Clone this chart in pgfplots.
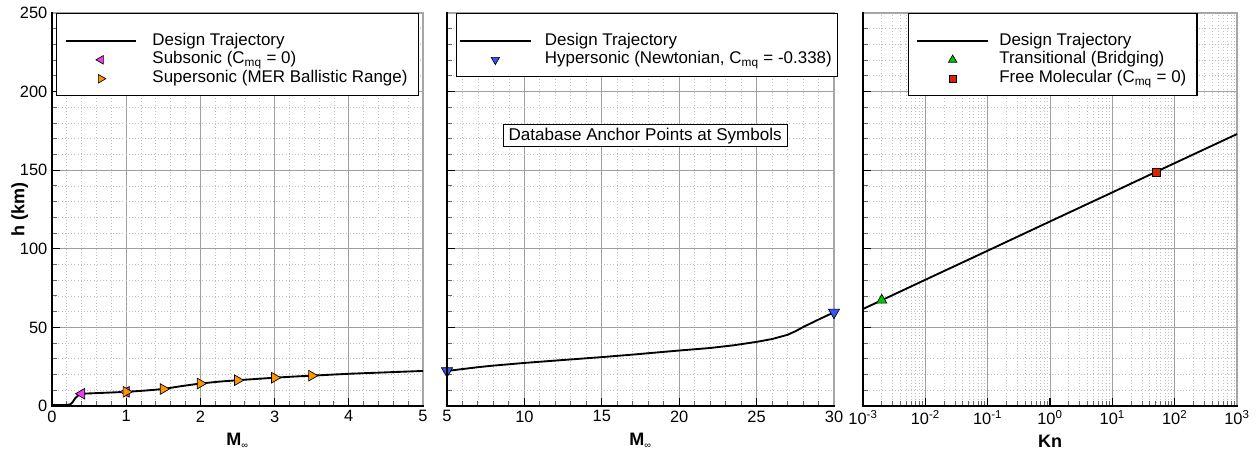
\documentclass[border=0pt]{standalone}
\usepackage{fontspec}
\setmainfont{Liberation Sans}
\usepackage{pgfplots}
\pgfplotsset{compat=1.18}

\definecolor{submag}{RGB}{240,60,240}
\definecolor{suporange}{RGB}{255,148,0}
\definecolor{hypblue}{RGB}{55,85,255}
\definecolor{trgreen}{RGB}{0,200,0}
\definecolor{fmred}{RGB}{220,35,0}

\pgfplotsset{
  panel/.style={
    scale only axis, height=294.75pt, anchor=south west,
    ymin=0, ymax=250, ytick={0,50,...,250}, minor y tick num=4,
    clip=false,
    axis line style={draw=gray!70, line width=1pt},
    tick align=inside, xtick pos=bottom, ytick pos=left,
    major tick length=6pt, minor tick length=4pt,
    major tick style={black, line width=1pt},
    minor tick style={gray!80!black, line width=0.7pt},
    grid=both,
    major grid style={gray!75, line width=0.7pt},
    minor grid style={gray!50, dotted, line width=0.6pt},
    /pgf/number format/assume math mode=true,
    tick label style={font=\fontsize{12.3}{14}\selectfont, black},
    label style={font=\bfseries\fontsize{13.5}{15}\selectfont},
    xlabel style={yshift=-1pt},
    ylabel style={yshift=-13pt},
    legend cell align=left,
    legend style={anchor=north west, draw=black, line width=0.8pt, fill=white,
      font=\fontsize{12.7}{14}\selectfont, inner xsep=6pt, inner ysep=5.5pt,
      row sep=0pt, column sep=8pt,
      nodes={text height=9pt, text depth=2.8pt, inner ysep=1.2pt}},
    legend image code/.code={\draw[mark repeat=2,mark phase=2,##1]
      plot coordinates {(0pt,0pt) (26.5pt,0pt) (53pt,0pt)};},
    after end axis/.code={\draw[black, line width=1.6pt, line cap=rect]
      (rel axis cs:0,1) -- (rel axis cs:0,0) -- (rel axis cs:1,0);},
  },
  traj/.style={black, line width=1.4pt, no marks},
}

\begin{document}
\begin{tikzpicture}
\path[use as bounding box] (0,0) rectangle (942.75pt,341.25pt);

% ---------------- subsonic / supersonic range ----------------
\begin{axis}[panel, at={(39pt,36.75pt)}, width=278.25pt,
  xmin=0, xmax=5, xtick={0,1,...,5}, minor x tick num=4,
  xlabel={M\textsubscript{\normalfont\scriptsize ∞}}, ylabel={h (km)},
  legend style={at={(rel axis cs:0.011,1)}, column sep=9.5pt}]
\addlegendimage{empty legend}\addlegendentry[text height=5.5pt, text depth=0pt]{}
\addplot[traj] coordinates {
 (0,0.6) (0.1,0.6) (0.2,0.7) (0.25,1.1) (0.28,2.6) (0.31,4.8) (0.35,6.6)
 (0.4,7.8) (0.6,8.2) (0.8,8.6) (1.0,9.0) (1.25,9.8) (1.5,10.8) (1.75,12.7)
 (2.0,14.3) (2.25,15.5) (2.5,16.4) (2.75,17.2) (3.0,18.0) (3.25,18.7)
 (3.5,19.3) (4.0,20.5) (4.5,21.4) (5.0,22.3)};
\addlegendentry{Design Trajectory}
\addplot[only marks, mark=triangle*, mark size=4.6pt,
  mark options={rotate=90, fill=submag, draw=black, line width=0.5pt},
  legend image post style={mark size=3.7pt}] coordinates {
 (0.4,7.8) (1.0,9.0)};
\addlegendentry{Subsonic (C\textsubscript{mq} = 0)}
\addplot[only marks, mark=triangle*, mark size=4.6pt,
  mark options={rotate=-90, fill=suporange, draw=black, line width=0.5pt},
  legend image post style={mark size=3.7pt}] coordinates {
 (1.0,9.0) (1.5,10.8) (2.0,14.3) (2.5,16.4) (3.0,18.0) (3.5,19.3)};
\addlegendentry{Supersonic (MER Ballistic Range)}
\end{axis}

% ---------------- hypersonic range ----------------
\begin{axis}[panel, at={(335.25pt,36.75pt)}, width=290.25pt,
  xmin=5, xmax=30, xtick={5,10,...,30}, minor x tick num=4,
  yticklabels={}, xlabel={M\textsubscript{\normalfont\scriptsize ∞}},
  legend style={at={(rel axis cs:0.023,1)}, inner xsep=2pt}]
\addlegendimage{empty legend}\addlegendentry[text height=5.5pt, text depth=0pt]{}
\addplot[traj] coordinates {
 (5,22.3) (6,23.5) (7,24.7) (8,25.7) (10,27.4) (12,28.9) (15,31.1) (17,32.7)
 (20,35.3) (22,36.9) (23.5,38.6) (25,40.8) (26,42.6) (27,45.3) (27.5,47.5)
 (28,50.2) (29,55.0) (30,59.6)};
\addlegendentry{Design Trajectory}
\addplot[only marks, mark=triangle*, mark size=4.8pt,
  mark options={rotate=180, fill=hypblue, draw=black, line width=0.5pt},
  legend image post style={mark size=3.6pt}] coordinates {
 (5,22.3) (30,59.6)};
\addlegendentry{Hypersonic (Newtonian, C\textsubscript{mq} = -0.338)}
\node[draw=black, line width=0.8pt, fill=white, inner xsep=4pt, inner ysep=2.5pt,
  font=\fontsize{12.8}{14}\selectfont] at (axis cs:17.8,172) {Database Anchor Points at Symbols};
\end{axis}

% ---------------- rarefied range ----------------
\begin{axis}[panel, xmode=log, at={(647.25pt,36.75pt)}, width=280.5pt,
  xmin=1e-3, xmax=1e3, xtick={1e-3,1e-2,1e-1,1,1e1,1e2,1e3},
  xticklabels={10\textsuperscript{-3},10\textsuperscript{-2},10\textsuperscript{-1},
    10\textsuperscript{0},10\textsuperscript{1},10\textsuperscript{2},10\textsuperscript{3}},
  yticklabels={}, xlabel={Kn},
  legend style={at={(rel axis cs:0.12,1)}, column sep=5.8pt}]
\addlegendimage{empty legend}\addlegendentry[text height=5.5pt, text depth=0pt]{}
\addplot[traj] coordinates {
 (1e-3,61.7) (1e-2,80.3) (1e-1,98.8) (1,117.4) (1e1,135.9) (1e2,154.5) (1e3,173.0)};
\addlegendentry{Design Trajectory}
\addplot[only marks, mark=triangle*, mark size=4.4pt,
  mark options={fill=trgreen, draw=black, line width=0.5pt},
  legend image post style={mark size=3.6pt}] coordinates {(2e-3,67.3)};
\addlegendentry{Transitional (Bridging)}
\addplot[only marks, mark=square*, mark size=3pt,
  mark options={fill=fmred, draw=black, line width=0.5pt},
  legend image post style={mark size=2.5pt}] coordinates {(50,148.9)};
\addlegendentry{Free Molecular (C\textsubscript{mq} = 0)}
\end{axis}
\end{tikzpicture}
\end{document}
